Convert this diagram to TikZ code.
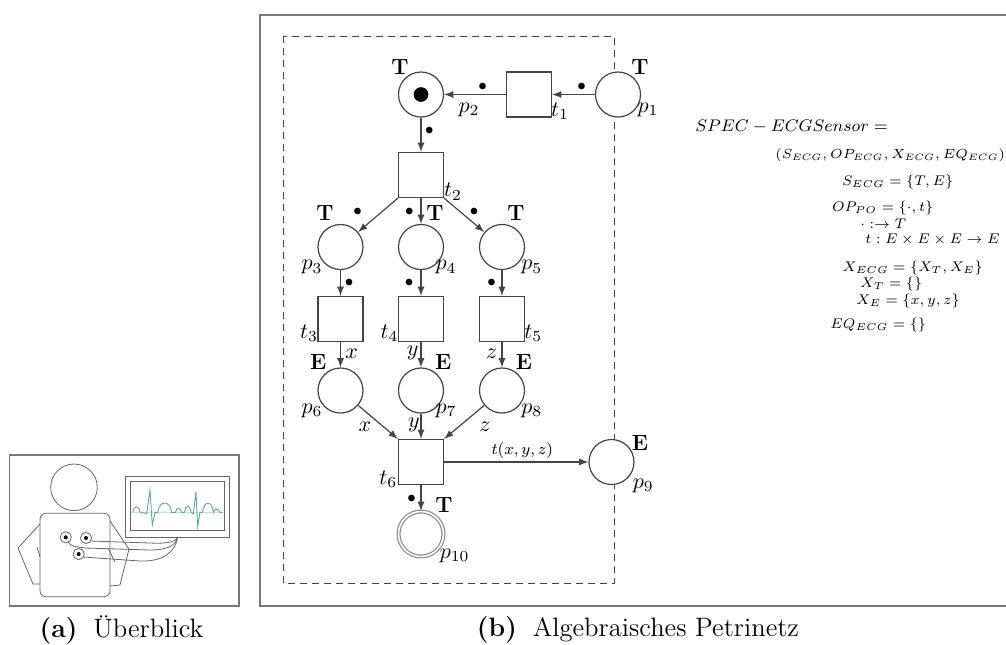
\RequirePackage{fix-cm}
\documentclass[tikz,border=0pt]{standalone}
\usepackage{tikz}
\usetikzlibrary{arrows}

\definecolor{rahmen}{HTML}{777777}
\definecolor{linie}{HTML}{444444}
\definecolor{ekg}{HTML}{5AA7AF}

\tikzset{
  stelle/.style={circle, draw=linie, fill=white, line width=0.6pt, minimum size=22.5pt, inner sep=0pt},
  transition/.style={rectangle, draw=linie, fill=white, line width=0.6pt, minimum size=22.5pt, inner sep=0pt},
  kante/.style={-latex, draw=linie, line width=0.6pt},
  beschr/.style={inner sep=0pt, font=\fontsize{11}{13}\selectfont},
  sorte/.style={inner sep=0pt, font=\fontsize{11}{13}\selectfont\bfseries},
  marke/.style={inner sep=0pt, font=\fontsize{8}{9}\selectfont},
  spec/.style={inner sep=0pt, anchor=west, font=\fontsize{7}{8.5}\selectfont},
  skizze/.style={draw=black!60, line width=0.4pt},
  titel/.style={inner sep=0pt, font=\fontsize{13.3}{15}\selectfont},
}

\begin{document}
\begin{tikzpicture}[x=0.5pt,y=-0.5pt]
  \useasboundingbox (0,0) rectangle (1006,644);

  %rahmen links
  \draw[rahmen, line width=0.9pt] (9.5,455) rectangle (239,606);
  %kopf und rumpf
  \draw[skizze] (74,487.3) circle (11.65pt);
  \draw[skizze, rounded corners=3pt] (40,513.3) rectangle (110,596.7);
  %arme
  \draw[skizze] (40,524) -- (18,548) -- (33,584) -- (40,584);
  \draw[skizze] (37,547) -- (40,557);
  \draw[skizze] (110,521) -- (129,549) -- (120,585) -- (110,586);
  \draw[skizze] (108,548) -- (115,562);
  %monitor
  \draw[skizze] (125,476) rectangle (229.3,537.3);
  \draw[skizze] (130.7,481.7) rectangle (224.3,530);
  \draw[ekg!35, line width=0.3pt] (131,512.3) -- (224,512.3);
  \draw[ekg, line width=0.45pt] (132.7,512.3)
    .. controls (134,505) and (139,505) .. (140,512.3)
    -- (146.7,513.5) -- (150,490) -- (152.3,525) -- (155,512.3) -- (157.7,512.3)
    .. controls (159,500) and (170.4,500) .. (171.7,512.3)
    -- (175.5,512.3) .. controls (176.5,507) and (180.5,507) .. (181.7,512.3)
    -- (184.5,512.3) .. controls (185.5,504) and (190,504) .. (191,512.3)
    -- (193.3,514) -- (196,491.7) -- (197.7,526.7) -- (200,512.3) -- (202.5,512.3)
    .. controls (204,500) and (212,500) .. (213.3,512.3)
    .. controls (214.5,508) and (218.5,508) .. (220,512.3) -- (222,512.3);
  %elektroden
  \foreach \ex/\ey in {65.7/537.3, 86/538, 78.7/554}{
    \draw[skizze] (\ex,\ey) circle (2.8pt);
    \fill (\ex,\ey) circle (1pt);
  }
  %kabel
  \draw[skizze] (90,541) -- (150,543) .. controls (170,544) and (176,541) .. (177.5,537.3);
  \draw[skizze] (68,541.5) .. controls (71,546) .. (85,548) -- (150,550)
    .. controls (168,550) and (176,545) .. (177.5,537.3);
  \draw[skizze] (83,557) -- (140,561) .. controls (165,562) and (176,550) .. (177.5,537.3);
  \node[titel] (capa) at (121.5,630) {\textbf{(a)}\hspace{0.6em}Überblick};

  %rahmen rechts
  \draw[rahmen, line width=1pt] (1010,15) -- (260,15) -- (260,606) -- (1010,606);
  \node[titel] (capb) at (638,630) {\textbf{(b)}\hspace{0.6em}Algebraisches Petrinetz};

  %gestrichelte box
  \draw[linie, line width=0.5pt, dash pattern=on 3.5pt off 2.5pt] (283,36) rectangle (614,583);

  %stellen
  \node[stelle] (p1) at (618,94.5) {};
  \node[stelle] (p2) at (421,94.5) {};
  \node[stelle] (p3) at (340.5,247) {};
  \node[stelle] (p4) at (421,247) {};
  \node[stelle] (p5) at (502,247) {};
  \node[stelle] (p6) at (340.5,390.5) {};
  \node[stelle] (p7) at (421,390.5) {};
  \node[stelle] (p8) at (502,390.5) {};
  \node[stelle] (p9) at (611.5,462) {};
  \node[stelle, draw=black!45, double=white, double distance=0.8pt] (p10) at (421,534) {};
  \node[circle, fill, inner sep=2.6pt] (tok) at (p2) {};

  %transitionen
  \node[transition] (t1) at (529,94.5) {};
  \node[transition] (t2) at (421,175) {};
  \node[transition] (t3) at (340.5,319) {};
  \node[transition] (t4) at (421,319) {};
  \node[transition] (t5) at (502,319) {};
  \node[transition] (t6) at (421,462) {};

  %kanten
  \draw[kante] (p1) -- (t1);
  \draw[kante] (t1) -- (p2);
  \draw[kante] (p2) -- (t2);
  \draw[kante] (t2.south west) -- (p3);
  \draw[kante] (t2) -- (p4);
  \draw[kante] (t2.south east) -- (p5);
  \draw[kante] (p3) -- (t3);
  \draw[kante] (p4) -- (t4);
  \draw[kante] (p5) -- (t5);
  \draw[kante] (t3) -- (p6);
  \draw[kante] (t4) -- (p7);
  \draw[kante] (t5) -- (p8);
  \draw[kante] (p6) -- (t6.north west);
  \draw[kante] (p7) -- (t6);
  \draw[kante] (p8) -- (t6.north east);
  \draw[kante] (t6) -- (p9);
  \draw[kante] (t6) -- (p10);

  %namen
  \node[beschr] (lp1) at (648,110) {$p_1$};
  \node[beschr] (lp2) at (469,110) {$p_2$};
  \node[beschr] (lp3) at (312,267.3) {$p_3$};
  \node[beschr] (lp4) at (446,267.3) {$p_4$};
  \node[beschr] (lp5) at (531.7,267.3) {$p_5$};
  \node[beschr] (lp6) at (312,411) {$p_6$};
  \node[beschr] (lp7) at (446,411) {$p_7$};
  \node[beschr] (lp8) at (531.7,411) {$p_8$};
  \node[beschr] (lp9) at (643.3,486) {$p_9$};
  \node[beschr] (lp10) at (454.7,556) {$p_{10}$};
  \node[beschr] (lt1) at (560,111) {$t_1$};
  \node[beschr] (lt2) at (453,191.7) {$t_2$};
  \node[beschr] (lt3) at (309,333.3) {$t_3$};
  \node[beschr] (lt4) at (389.5,333.3) {$t_4$};
  \node[beschr] (lt5) at (533.3,333.3) {$t_5$};
  \node[beschr] (lt6) at (388.3,479.3) {$t_6$};

  %sorten
  \node[sorte] (s1) at (640,66.7) {T};
  \node[sorte] (s2) at (400,66.7) {T};
  \node[sorte] (s3) at (325,213.3) {T};
  \node[sorte] (s4) at (435,213.3) {T};
  \node[sorte] (s5) at (516,213.3) {T};
  \node[sorte] (s6) at (318.3,361.7) {E};
  \node[sorte] (s7) at (443.3,361.7) {E};
  \node[sorte] (s8) at (524,361.7) {E};
  \node[sorte] (s9) at (640,442.7) {E};
  \node[sorte] (s10) at (444,505) {T};

  %marken an den kanten
  \node[marke] (m1) at (581.7,86.7) {$\bullet$};
  \node[marke] (m2) at (482.7,86.7) {$\bullet$};
  \node[marke] (m3) at (429.3,130.7) {$\bullet$};
  \node[marke] (m4) at (357.7,212.3) {$\bullet$};
  \node[marke] (m5) at (409.3,212.3) {$\bullet$};
  \node[marke] (m6) at (474,212.3) {$\bullet$};
  \node[marke] (m7) at (349,283.3) {$\bullet$};
  \node[marke] (m8) at (409,283.3) {$\bullet$};
  \node[marke] (m9) at (491.7,283.3) {$\bullet$};
  \node[marke] (m10) at (411.7,499) {$\bullet$};

  %variablen
  \node[beschr] (v1) at (351.7,354) {$x$};
  \node[beschr] (v2) at (412.7,352.7) {$y$};
  \node[beschr] (v3) at (491.7,353.3) {$z$};
  \node[beschr] (v4) at (365,426.7) {$x$};
  \node[beschr] (v5) at (414,425) {$y$};
  \node[beschr] (v6) at (485,426.7) {$z$};
  \node[marke] (v7) at (522.3,450) {$t(x,y,z)$};

  %spezifikation
  \node[spec, font=\fontsize{8.4}{10}\selectfont] (sp1) at (695,126.7) {$SPEC-ECGSensor=$};
  \node[spec, font=\fontsize{6.6}{8}\selectfont] (sp2) at (775,155) {$(S_{ECG},OP_{ECG},X_{ECG},EQ_{ECG})$};
  \node[spec] (sp3) at (841.7,181.7) {$S_{ECG}=\{T,E\}$};
  \node[spec] (sp4) at (831.7,208.3) {$OP_{PO}=\{\cdot,t\}$};
  \node[spec] (sp5) at (860,224) {$\cdot:\rightarrow T$};
  \node[spec] (sp6) at (865,240) {$t:E\times E\times E\rightarrow E$};
  \node[spec] (sp7) at (842.3,267.5) {$X_{ECG}=\{X_T,X_E\}$};
  \node[spec] (sp8) at (860,283.5) {$X_T=\{\}$};
  \node[spec] (sp9) at (856,300.5) {$X_E=\{x,y,z\}$};
  \node[spec] (sp10) at (830,325) {$EQ_{ECG}=\{\}$};
\end{tikzpicture}
\end{document}
